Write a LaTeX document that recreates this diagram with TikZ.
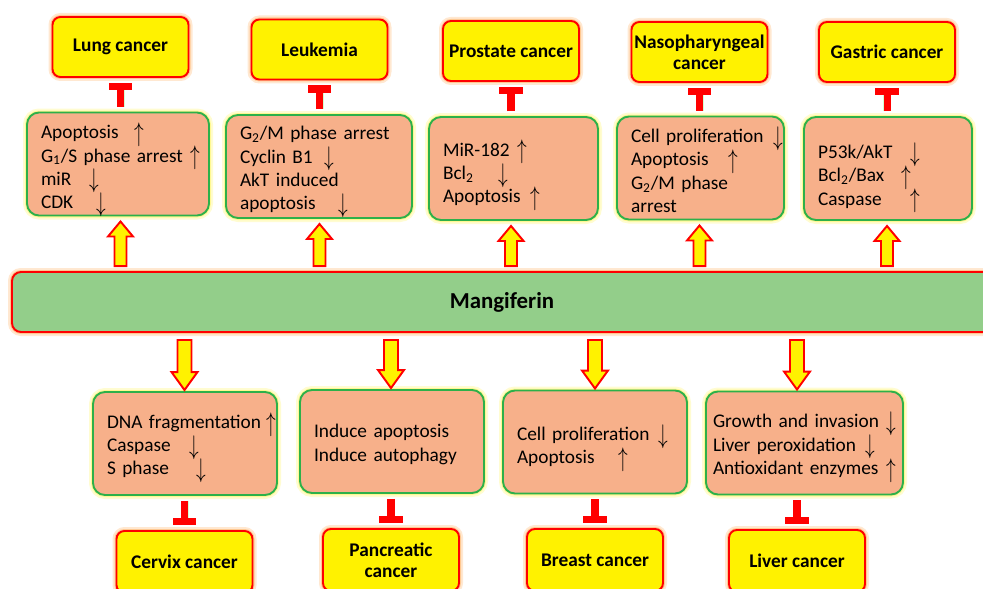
\documentclass[tikz,border=0pt]{standalone}
\usepackage{fontspec}
\setmainfont{Carlito}
\usetikzlibrary{
  arrows.meta, % for arrow tips
  calc}        % for let and partway coordinates
\newlength\pxu
\setlength\pxu{0.02cm}
\definecolor{fxfill}{HTML}{F7B08A}
\definecolor{fxline}{HTML}{2DB04A}
\definecolor{mangfill}{HTML}{93CE8A}
% up / down markers inside the boxes
\newcommand\incr{\smash{\raisebox{-.3ex}{\scalebox{1}[1.4]{$\uparrow$}}}}
\newcommand\decr{\smash{\raisebox{-.3ex}{\scalebox{1}[1.4]{$\downarrow$}}}}
\newcommand\lead[2]{\makebox[#1\pxu][l]{#2}}
% fat arrows out of the mangiferin bar
\newcommand\blockup[3]{%
  \draw[block arrow] let \p1=(#1.north -| #3), \p2=(#2.south -| #3) in
    (\x1-6\pxu,\y1+5\pxu) -- (\x1-6\pxu,\y2-20\pxu) -- (\x1-12.5\pxu,\y2-20\pxu)
    -- (\x1,\y2-5\pxu) -- (\x1+12.5\pxu,\y2-20\pxu) -- (\x1+6\pxu,\y2-20\pxu)
    -- (\x1+6\pxu,\y1+5\pxu) -- cycle;}
\newcommand\blockdown[3]{%
  \draw[block arrow] let \p1=(#1.south -| #3), \p2=(#2.north -| #3) in
    (\x1-7\pxu,\y1-7\pxu) -- (\x1-7\pxu,\y2+19\pxu) -- (\x1-13\pxu,\y2+19\pxu)
    -- (\x1,\y2+1\pxu) -- (\x1+13\pxu,\y2+19\pxu) -- (\x1+7\pxu,\y2+19\pxu)
    -- (\x1+7\pxu,\y1-7\pxu) -- cycle;}
\tikzset{
  glow/.style={
    preaction={draw=#1, draw opacity=.18, line width=8\pxu},
    preaction={draw=#1, draw opacity=.3, line width=4\pxu}},
  cancer box/.style={
    shape=rectangle, rounded corners=8\pxu, draw=red, line width=1.1pt,
    fill=yellow, glow=orange, align=center, inner sep=1pt,
    font=\bfseries\fontsize{11}{12}\selectfont,
    minimum width=136\pxu, minimum height=60\pxu},
  effect box/.style={
    shape=rectangle, rounded corners=12\pxu, draw=fxline, line width=1.1pt,
    fill=fxfill, glow=yellow, align=left, inner xsep=14\pxu, inner ysep=2pt,
    font=\fontsize{11}{13.2}\selectfont,
    execute at begin node=\rule{0pt}{11pt},
    minimum width=#1\pxu, text width=#1\pxu-28\pxu, minimum height=103\pxu},
  mang box/.style={
    shape=rectangle, rounded corners=9\pxu, draw=red, line width=1.1pt,
    fill=mangfill, glow=orange, font=\bfseries\fontsize{13}{15}\selectfont,
    minimum width=980\pxu, minimum height=60\pxu},
  inhibit/.style={
    draw=red, line width=4pt, glow=green,
    -{Rectangle[width=13.6pt, length=4.2pt, line width=0pt]},
    shorten <=5\pxu, shorten >=5\pxu},
  block arrow/.style={draw=red, fill=yellow, line width=1.1pt, line join=miter}
}

\begin{document}
\begin{tikzpicture}[x=0.02cm, y=-0.02cm]
\fill[white] (0,0) rectangle (983,588);
\useasboundingbox (0,0) rectangle (983,588);

% cancers above the bar
\node[cancer box] (lung)  at (120.5,47)  {Lung cancer};
\node[cancer box] (leuk)  at (319.5,49.5) {Leukemia};
\node[cancer box] (prost) at (511,51)    {Prostate cancer};
\node[cancer box] (naso)  at (699.5,52)  {Nasopharyngeal\\cancer};
\node[cancer box] (gast)  at (887,52)    {Gastric cancer};

% effects above the bar
\node[effect box=182] (fx-lung) at (118,164) {
  \lead{93}{Apoptosis}\incr\\
  \lead{149}{G\textsubscript{1}/S phase arrest}\incr\\
  \lead{48}{miR}\decr\\
  \lead{55}{CDK}\decr};
\node[effect box=186] (fx-leuk) at (319,166.5) {
  G\textsubscript{2}/M phase arrest\\
  \lead{84}{Cyclin B1}\decr\\
  AkT induced\\
  \lead{98}{apoptosis}\decr};
\node[effect box=169] (fx-prost) at (513.5,168.5) {
  \rule{0pt}{14pt}\lead{74}{MiR-182}\incr\\
  \lead{55}{Bcl\textsubscript{2}}\decr\\
  \lead{87}{Apoptosis}\incr};
\node[effect box=167] (fx-naso) at (700.5,168) {
  \lead{142}{Cell proliferation}\decr\\
  \lead{97}{Apoptosis}\incr\\
  G\textsubscript{2}/M phase\\
  arrest};
\node[effect box=168] (fx-gast) at (888,168.5) {
  \rule{0pt}{17pt}\lead{92}{P53k/AkT}\decr\\
  \lead{83}{Bcl\textsubscript{2}/Bax}\incr\\
  \lead{92}{Caspase}\incr};

\node[mang box] (mang) at (502,302) {Mangiferin};

% effects below the bar
\node[effect box=184] (fx-cervix) at (185,443.5) {
  \lead{159}{DNA fragmentation}\incr\\
  \lead{82}{Caspase}\decr\\
  \lead{89}{S phase}\decr};
\node[effect box=184] (fx-panc) at (392,441.5) {
  Induce apoptosis\\
  Induce autophagy};
\node[effect box=184] (fx-breast) at (595,442) {
  \rule{0pt}{13pt}\lead{141}{Cell proliferation}\decr\\
  \lead{101}{Apoptosis}\incr};
\node[effect box=195, inner xsep=7\pxu, text width=183\pxu] (fx-liver)
  at (804.5,443) {
  \lead{173}{Growth and invasion}\decr\\
  \lead{152}{Liver peroxidation}\decr\\
  \lead{173}{Antioxidant enzymes}\incr};

% cancers below the bar
\node[cancer box, minimum height=62\pxu] (cervix) at (184.5,562) {Cervix cancer};
\node[cancer box, minimum height=62\pxu] (panc)   at (391,560)   {Pancreatic\\cancer};
\node[cancer box, minimum height=62\pxu] (breast) at (595,560)   {Breast cancer};
\node[cancer box, minimum height=62\pxu] (liver)  at (797,561)   {Liver cancer};

% mangiferin acts on the effects
\blockup{mang}{fx-lung}{lung}
\blockup{mang}{fx-leuk}{leuk}
\blockup{mang}{fx-prost}{prost}
\blockup{mang}{fx-naso}{naso}
\blockup{mang}{fx-gast}{gast}
\blockdown{mang}{fx-cervix}{cervix}
\blockdown{mang}{fx-panc}{panc}
\blockdown{mang}{fx-breast}{breast}
\blockdown{mang}{fx-liver}{liver}

% the effects block the cancers
\draw[inhibit] (fx-lung.north -| lung)   -- (lung.south);
\draw[inhibit] (fx-leuk.north -| leuk)   -- (leuk.south);
\draw[inhibit] (fx-prost.north -| prost) -- (prost.south);
\draw[inhibit] (fx-naso.north -| naso)   -- (naso.south);
\draw[inhibit] (fx-gast.north -| gast)   -- (gast.south);
\draw[inhibit] (fx-cervix.south -| cervix) -- (cervix.north);
\draw[inhibit] (fx-panc.south -| panc)     -- (panc.north);
\draw[inhibit] (fx-breast.south -| breast) -- (breast.north);
\draw[inhibit] (fx-liver.south -| liver)   -- (liver.north);
\end{tikzpicture}
\end{document}
